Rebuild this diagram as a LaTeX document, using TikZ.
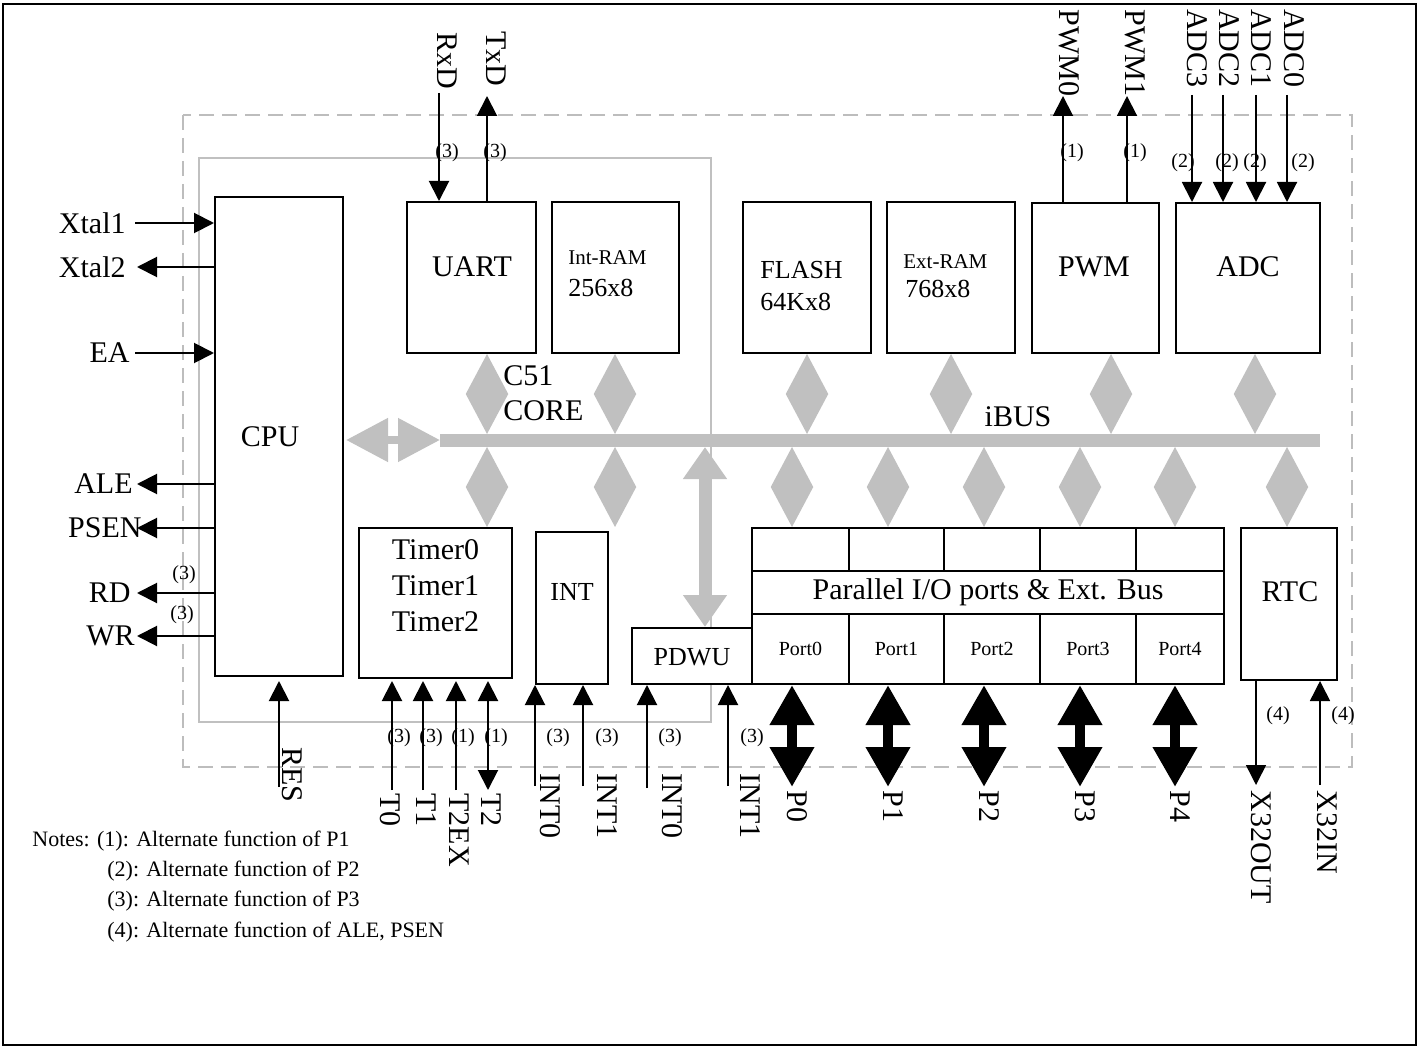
\documentclass[tikz,border=0pt]{standalone}
\usepackage{fontspec}
\setmainfont{Liberation Serif}
\usetikzlibrary{arrows.meta,fit,calc}
\definecolor{busgray}{HTML}{C0C0C0}
\definecolor{framegray}{HTML}{BDBDBD}
\newcommand\fbig{\fontsize{15}{17.5}\selectfont}
\newcommand\fmid{\fontsize{13}{15}\selectfont}
\newcommand\fram{\fontsize{10.5}{12}\selectfont}
\newcommand\fsm{\fontsize{10}{12}\selectfont}
\newcommand\fnote{\fontsize{11}{13}\selectfont}
\tikzset{
  Blk/.tip={Triangle[width=10pt,length=10pt]},
  GrT/.tip={Triangle[width=21pt,length=20pt]},
  blkbox/.style={draw=black,line width=1pt,fill=white,inner sep=0pt},
  sig/.style={draw=black,line width=1pt},
  thinsig/.style={draw=black,line width=0.75pt},
  busd/.style={draw=busgray,line width=1pt,GrT-GrT},
  cpubus/.style={draw=busgray,line width=4pt,{Triangle[width=21pt,length=21pt]}-{Triangle[width=21pt,length=21pt]}},
  pdwubus/.style={draw=busgray,line width=6pt,{Triangle[width=21pt,length=16pt]}-{Triangle[width=21pt,length=16pt]}},
  portbus/.style={draw=black,line width=5pt,{Triangle[width=21pt,length=20pt]}-{Triangle[width=21pt,length=20pt]}},
  lbl/.style={font=\fbig,inner sep=0pt},
  vlbl/.style={font=\fbig,inner sep=0pt,rotate=-90},
  altlbl/.style={font=\fsm,inner sep=0pt},
}
\begin{document}
\begin{tikzpicture}[x=0.5pt,y=-0.5pt]
\useasboundingbox (0,0) rectangle (1419,1048);
\draw[line width=1pt] (3,4) rectangle (1416,1045);
\draw[framegray,line width=1pt,dash pattern=on 7.5pt off 4pt] (183,115) rectangle (1352,767);
\draw[busgray,line width=0.9pt] (199,158) rectangle (711,722);

% iBUS bar
\coordinate (busL) at (440,440);
\coordinate (busR) at (1320,440);
\draw[busgray,line width=6.5pt] (busL) -- (busR);
\node[lbl] (ibus) at (1018,417) {iBUS};

% blocks
\node[blkbox,fit={(215,197) (343,676)}] (cpu) {};
\node[blkbox,fit={(407,202) (536,353)}] (uart) {};
\node[blkbox,fit={(552,202) (679,353)}] (iram) {};
\node[blkbox,fit={(743,202) (871,353)}] (flash) {};
\node[blkbox,fit={(887,202) (1015,353)}] (eram) {};
\node[blkbox,fit={(1032,203) (1159,353)}] (pwm) {};
\node[blkbox,fit={(1176,203) (1320,353)}] (adc) {};
\node[blkbox,fit={(359,528) (512,678)}] (timer) {};
\node[blkbox,fit={(536,532) (608,684)}] (intb) {};
\node[blkbox,fit={(632,628) (752,684)}] (pdwu) {};
\node[blkbox,fit={(1241,528) (1337,680)}] (rtc) {};
\foreach \i/\a/\b in {0/752/849,1/849/944,2/944/1040,3/1040/1136,4/1136/1224} {
  \node[blkbox,fit={(\a,528) (\b,571)}] (top\i) {};
  \node[blkbox,fit={(\a,614) (\b,684)}] (port\i) {};
  \node[altlbl] (portt\i) at (port\i.center) {Port\i};
}
\node[blkbox,fit={(752,571) (1224,614)}] (pio) {};
\node[lbl] (piot) at (pio.center) {Parallel I/O ports \& Ext. Bus};

% block texts
\node[lbl] (cput) at (270,437) {CPU};
\node[lbl] (uartt) at (472,267) {UART};
\node[font=\fram,anchor=west,inner sep=0pt] (iramt) at (568,258) {Int-RAM};
\node[font=\fmid,anchor=west,inner sep=0pt] (iramt2) at (568,288) {256x8};
\node[font=\fmid,anchor=west,inner sep=0pt] (flasht) at (760,270) {FLASH};
\node[font=\fmid,anchor=west,inner sep=0pt] (flasht2) at (760,302) {64Kx8};
\node[font=\fram,anchor=west,inner sep=0pt] (eramt) at (903,262) {Ext-RAM};
\node[font=\fmid,anchor=west,inner sep=0pt] (eramt2) at (905,289) {768x8};
\node[lbl] (pwmt) at (1094,267) {PWM};
\node[lbl] (adct) at (1248,267) {ADC};
\node[inner sep=0pt,align=center,font=\fontsize{15}{18}\selectfont] (timert) at (435.5,586) {Timer0\\Timer1\\Timer2};
\node[font=\fmid,inner sep=0pt] (intt) at (572,592) {INT};
\node[font=\fmid,inner sep=0pt] (pdwut) at (692,657) {PDWU};
\node[lbl] (rtct) at (1290,592) {RTC};
\node[lbl,align=left,anchor=west] (coret) at (503,393) {C51\\CORE};

% gray bus connectors
\foreach \n/\x in {uart/487,iram/615,flash/807,eram/951,pwm/1111,adc/1255} {
  \coordinate (up\n) at (\x,434);
  \draw[busd] (\n.south -| up\n) -- (up\n);
}
\coordinate (lotimer) at (487,447);
\draw[busd] (lotimer) -- (lotimer |- timer.north);
\coordinate (lofree) at (615,447);
\coordinate (lofreeEnd) at (615,527);
\draw[busd] (lofree) -- (lofreeEnd);
\foreach \i/\x in {0/792,1/888,2/984,3/1080,4/1175} {
  \coordinate (lop\i) at (\x,447);
  \draw[busd] (lop\i) -- (lop\i |- top\i.north);
}
\coordinate (lortc) at (1287,447);
\draw[busd] (lortc) -- (lortc |- rtc.north);
\coordinate (lopd) at (705,447);
\draw[pdwubus] (lopd) -- (lopd |- pdwu.north);
\draw[cpubus,shorten <=1pt] (cpu.east |- busL) -- (busL);

% left signals
\coordinate (eXA) at (135,223);
\node[lbl,anchor=east] (lXA) at (126,223) {Xtal1};
\draw[sig,-Blk] (eXA) -- (eXA -| cpu.west);
\coordinate (eXB) at (137,267);
\node[lbl,anchor=east] (lXB) at (126,267) {Xtal2};
\draw[sig,-Blk] (eXB -| cpu.west) -- (eXB);
\coordinate (eEA) at (135,353);
\node[lbl,anchor=east] (lEA) at (130,353) {EA};
\draw[sig,-Blk] (eEA) -- (eEA -| cpu.west);
\coordinate (eALE) at (137,484);
\node[lbl,anchor=east] (lALE) at (133,484) {ALE};
\draw[sig,-Blk] (eALE -| cpu.west) -- (eALE);
\coordinate (ePSEN) at (137,528);
\node[lbl,anchor=east] (lPSEN) at (142,528) {PSEN};
\draw[sig,-Blk] (ePSEN -| cpu.west) -- (ePSEN);
\coordinate (eRD) at (137,593);
\node[lbl,anchor=east] (lRD) at (131,593) {RD};
\draw[sig,-Blk] (eRD -| cpu.west) -- (eRD);
\node[altlbl] (aRD) at (184,575) {(3)};
\coordinate (eWR) at (137,636);
\node[lbl,anchor=east] (lWR) at (135,636) {WR};
\draw[sig,-Blk] (eWR -| cpu.west) -- (eWR);
\node[altlbl] (aWR) at (182,615) {(3)};

% top signals
\coordinate (tRx) at (439,93);
\draw[sig,-Blk] (tRx) -- (tRx |- uart.north);
\node[vlbl,anchor=east] (lRx) at (447,90) {RxD};
\node[altlbl] (aRx) at (447,153) {(3)};
\coordinate (tTx) at (487,96);
\draw[sig,-Blk] (uart.north -| tTx) -- (tTx);
\node[vlbl,anchor=east] (lTx) at (496,87) {TxD};
\node[altlbl] (aTx) at (495,153) {(3)};
\coordinate (tP0) at (1063,96);
\draw[sig,-Blk] (pwm.north -| tP0) -- (tP0);
\node[vlbl,anchor=east] (lP0) at (1069,97) {PWM0};
\node[altlbl] (aP0) at (1072,153) {(1)};
\coordinate (tP1) at (1127,96);
\draw[sig,-Blk] (pwm.north -| tP1) -- (tP1);
\node[vlbl,anchor=east] (lP1) at (1135,97) {PWM1};
\node[altlbl] (aP1) at (1135,153) {(1)};
\foreach \k/\x/\lx/\ax in {3/1192/1197/1183,2/1223/1229/1227,1/1256/1261/1255,0/1287/1294/1303} {
  \coordinate (tA\k) at (\x,95);
  \draw[sig,-Blk] (tA\k) -- (tA\k |- adc.north);
  \node[vlbl,anchor=east] (lA\k) at (\lx,88) {ADC\k};
  \node[altlbl] (aA\k) at (\ax,163) {(2)};
}

% bottom signals
\coordinate (bRES) at (279,787);
\draw[sig,-Blk,shorten >=2pt] (bRES) -- (bRES |- cpu.south);
\node[vlbl,anchor=west] (lRES) at (292,747) {RES};
\coordinate (bT0) at (392,790);
\draw[sig,-Blk,shorten >=1pt] (bT0) -- (bT0 |- timer.south);
\node[vlbl,anchor=west] (lT0) at (390,793) {T0};
\coordinate (bT1) at (423,790);
\draw[sig,-Blk,shorten >=1pt] (bT1) -- (bT1 |- timer.south);
\node[vlbl,anchor=west] (lT1) at (426,793) {T1};
\coordinate (bT2EX) at (456,790);
\draw[sig,-Blk,shorten >=1pt] (bT2EX) -- (bT2EX |- timer.south);
\node[vlbl,anchor=west] (lT2EX) at (459,793) {T2EX};
\coordinate (bT2) at (488,790);
\draw[sig,Blk-Blk,shorten <=1pt] (bT2 |- timer.south) -- (bT2);
\node[vlbl,anchor=west] (lT2) at (491,793) {T2};
\node[altlbl] (aT0) at (399,738) {(3)};
\node[altlbl] (aT1) at (431,738) {(3)};
\node[altlbl] (aT2EX) at (463,738) {(1)};
\node[altlbl] (aT2) at (496,738) {(1)};
\coordinate (bI0) at (535,786);
\draw[sig,-Blk] (bI0) -- (bI0 |- intb.south);
\node[vlbl,anchor=west] (lI0) at (550,773) {INT0};
\coordinate (bI1) at (583,786);
\draw[sig,-Blk] (bI1) -- (bI1 |- intb.south);
\node[vlbl,anchor=west] (lI1) at (607,773) {INT1};
\coordinate (bJ0) at (647,788);
\draw[sig,-Blk] (bJ0) -- (bJ0 |- pdwu.south);
\node[vlbl,anchor=west] (lJ0) at (672,773) {INT0};
\coordinate (bJ1) at (728,786);
\draw[sig,-Blk] (bJ1) -- (bJ1 |- pdwu.south);
\node[vlbl,anchor=west] (lJ1) at (750,773) {INT1};
\node[altlbl] (aI0) at (558,738) {(3)};
\node[altlbl] (aI1) at (607,738) {(3)};
\node[altlbl] (aJ0) at (670,738) {(3)};
\node[altlbl] (aJ1) at (752,738) {(3)};

% port buses
\foreach \i/\x in {0/792,1/888,2/984,3/1080,4/1175} {
  \coordinate (bP\i) at (\x,787);
  \draw[portbus] (port\i.south -| bP\i) -- (bP\i);
  \node[vlbl,anchor=west] (lPort\i) at (\x+5,790) {P\i};
}

% RTC pins
\coordinate (bXo) at (1256,785);
\draw[thinsig,-Blk] (rtc.south -| bXo) -- (bXo);
\node[vlbl,anchor=west] (lXo) at (1261,790) {X32OUT};
\coordinate (bXi) at (1320,785);
\draw[thinsig,-Blk] (bXi) -- (bXi |- rtc.south);
\node[vlbl,anchor=west] (lXi) at (1327,790) {X32IN};
\node[altlbl] (aXo) at (1278,716) {(4)};
\node[altlbl] (aXi) at (1343,716) {(4)};

% notes
\node[font=\fnote,anchor=base west,inner sep=0pt] (n1) at (32,846) {Notes: (1): Alternate function of P1};
\node[font=\fnote,anchor=base west,inner sep=0pt] (n2) at (107,876) {(2): Alternate function of P2};
\node[font=\fnote,anchor=base west,inner sep=0pt] (n3) at (107,906) {(3): Alternate function of P3};
\node[font=\fnote,anchor=base west,inner sep=0pt] (n4) at (107,937) {(4): Alternate function of ALE, PSEN};
\end{tikzpicture}
\end{document}
